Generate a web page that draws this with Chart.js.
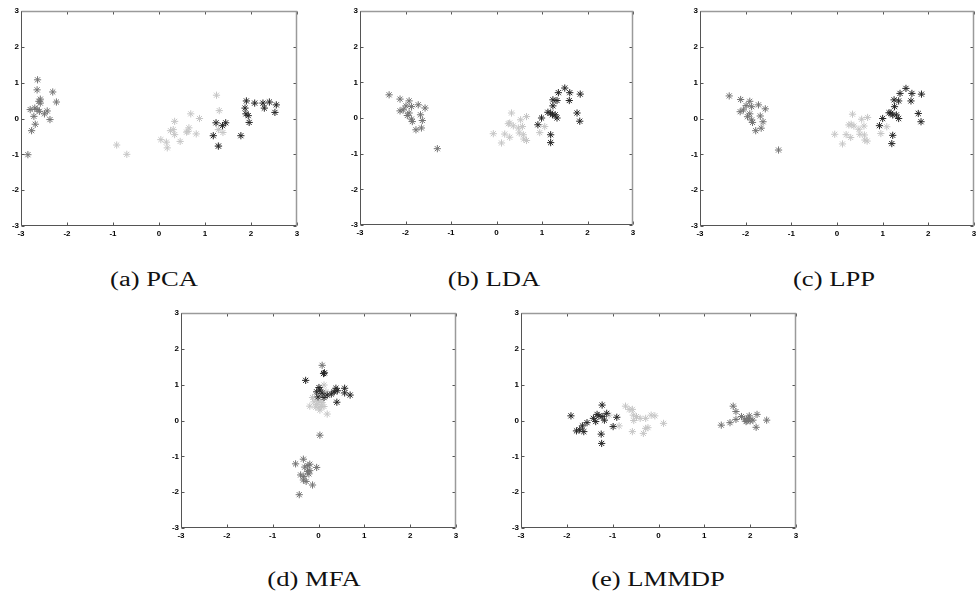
<!DOCTYPE html>
<html>
<head>
<meta charset="utf-8">
<script src="https://cdn.jsdelivr.net/npm/chart.js@4/dist/chart.umd.min.js"></script>
<style>
  html,body{margin:0;padding:0;background:#fff;}
  #wrap{position:relative;width:977px;height:591px;overflow:hidden;background:#fff;}
  canvas{position:absolute;}
  .cap{position:absolute;font-family:"Liberation Serif","Times New Roman",serif;font-size:20px;line-height:20px;color:#111;white-space:nowrap;transform:translateX(-50%) scaleX(1.33);transform-origin:center;}
</style>
</head>
<body>
<div id="wrap"></div>
<script>
// ---- data ----
const tickValues = [-3, -2, -1, 0, 1, 2, 3];
const captions = ['(a) PCA', '(b) LDA', '(c) LPP', '(d) MFA', '(e) LMMDP'];

const pcaDark = [[1.18,-0.48],[1.24,-0.12],[1.29,-0.77],[1.38,-0.20],[1.45,-0.12],[1.78,-0.48],[1.90,0.49],[1.87,0.29],[1.89,0.13],[1.94,0.08],[1.96,-0.11],[2.08,0.43],[2.26,0.43],[2.29,0.29],[2.40,0.46],[2.55,0.38],[2.52,0.17]];
const pcaMedium = [[-2.64,1.08],[-2.65,0.80],[-2.58,0.54],[-2.61,0.48],[-2.58,0.43],[-2.31,0.74],[-2.23,0.46],[-2.80,0.25],[-2.70,0.29],[-2.65,0.25],[-2.60,0.20],[-2.43,0.21],[-2.72,0.06],[-2.49,0.13],[-2.37,-0.03],[-2.69,-0.16],[-2.77,-0.34],[-2.85,-1.01]];
const pcaLight = [[-0.92,-0.74],[-0.70,-1.00],[0.04,-0.59],[0.16,-0.66],[0.18,-0.82],[0.25,-0.34],[0.31,-0.31],[0.34,-0.45],[0.34,-0.08],[0.46,-0.64],[0.69,0.13],[0.60,-0.38],[0.65,-0.26],[0.63,-0.36],[0.81,-0.43],[0.88,0.00],[1.25,0.65],[1.31,0.22],[1.29,-0.31],[1.39,-0.39],[1.30,-0.77]];

const ldaDark = [[0.91,-0.19],[0.99,0.00],[1.19,-0.47],[1.19,-0.69],[1.13,0.16],[1.19,0.14],[1.23,0.09],[1.24,0.34],[1.24,0.51],[1.33,0.49],[1.29,0.09],[1.33,0.00],[1.36,0.71],[1.50,0.84],[1.61,0.71],[1.60,0.49],[1.84,0.67],[1.77,0.14],[1.83,-0.09]];
const ldaMedium = [[-2.36,0.65],[-2.12,0.53],[-1.92,0.48],[-1.72,0.37],[-1.57,0.28],[-1.99,0.34],[-1.87,0.32],[-2.12,0.20],[-2.05,0.23],[-1.92,0.14],[-1.96,0.07],[-1.87,-0.03],[-1.85,-0.10],[-1.67,0.09],[-1.63,-0.07],[-1.77,-0.33],[-1.65,-0.28],[-1.30,-0.86]];
const ldaLight = [[-0.07,-0.44],[0.11,-0.70],[0.18,-0.45],[0.29,-0.54],[0.26,-0.16],[0.33,0.14],[0.37,-0.22],[0.29,-0.14],[0.48,-0.28],[0.53,-0.05],[0.50,-0.42],[0.57,-0.24],[0.59,-0.47],[0.60,-0.59],[0.66,-0.63],[0.66,0.04],[1.06,-0.24],[0.95,-0.41]];

const lppDark = [[0.93,-0.20],[1.00,0.00],[1.22,-0.47],[1.20,-0.70],[1.14,0.16],[1.18,0.15],[1.22,0.10],[1.26,0.33],[1.25,0.52],[1.35,0.49],[1.30,0.10],[1.35,0.00],[1.38,0.70],[1.51,0.84],[1.64,0.70],[1.62,0.49],[1.85,0.68],[1.78,0.14],[1.84,-0.09]];
const lppMedium = [[-2.36,0.63],[-2.11,0.53],[-1.91,0.48],[-1.72,0.38],[-1.57,0.27],[-1.99,0.36],[-1.87,0.33],[-2.12,0.19],[-2.05,0.24],[-1.91,0.13],[-1.96,0.05],[-1.87,-0.04],[-1.85,-0.11],[-1.68,0.07],[-1.62,-0.09],[-1.78,-0.34],[-1.66,-0.27],[-1.28,-0.88]];
const lppLight = [[-0.05,-0.44],[0.12,-0.71],[0.20,-0.45],[0.30,-0.53],[0.26,-0.18],[0.34,0.12],[0.37,-0.21],[0.31,-0.16],[0.48,-0.30],[0.54,-0.02],[0.50,-0.44],[0.59,-0.21],[0.60,-0.46],[0.61,-0.60],[0.66,-0.63],[0.67,0.03],[1.09,-0.23],[0.96,-0.42]];

const mfaDark = [[-0.28,1.12],[0.11,1.31],[0.13,1.33],[0.01,0.92],[-0.04,0.80],[0.03,0.85],[0.08,0.76],[-0.01,0.66],[0.12,0.64],[0.19,0.71],[0.28,0.74],[0.34,0.80],[0.38,0.90],[0.41,0.83],[0.40,0.51],[0.57,0.90],[0.57,0.77],[0.69,0.71]];
const mfaMedium = [[0.08,1.54],[0.03,-0.41],[-0.50,-1.21],[-0.33,-1.08],[-0.30,-1.30],[-0.23,-1.26],[-0.19,-1.22],[-0.04,-1.31],[-0.39,-1.52],[-0.32,-1.56],[-0.27,-1.70],[-0.21,-1.49],[-0.19,-1.40],[-0.24,-1.42],[-0.33,-1.66],[-0.13,-1.80],[-0.42,-2.07]];
const mfaLight = [[0.12,0.99],[-0.13,0.64],[-0.19,0.40],[-0.04,0.45],[0.01,0.37],[0.06,0.40],[0.12,0.39],[-0.10,0.52],[0.03,0.52],[0.19,0.18],[-0.03,0.57],[0.08,0.50],[0.03,0.29],[-0.06,0.37],[0.16,0.80]];

const lmmdpDark = [[-1.91,0.13],[-1.79,-0.29],[-1.72,-0.26],[-1.66,-0.15],[-1.63,-0.31],[-1.56,-0.06],[-1.42,0.06],[-1.34,0.17],[-1.37,-0.03],[-1.30,0.13],[-1.23,0.43],[-1.23,0.11],[-1.18,0.01],[-1.13,0.20],[-1.25,-0.38],[-1.24,-0.64],[-0.99,-0.17],[-0.91,0.09]];
const lmmdpMedium = [[1.37,-0.13],[1.56,-0.06],[1.63,0.40],[1.69,0.25],[1.69,0.03],[1.81,0.11],[1.88,0.04],[1.93,-0.01],[1.96,0.06],[1.98,0.13],[2.00,-0.01],[1.91,-0.03],[2.06,0.01],[2.15,0.17],[2.13,-0.19],[2.36,0.01]];
const lmmdpLight = [[-0.72,0.40],[-0.64,0.31],[-0.57,0.31],[-0.55,0.15],[-0.54,0.00],[-0.48,0.11],[-0.40,0.06],[-0.28,0.06],[-0.57,-0.31],[-0.33,-0.36],[-0.28,-0.22],[-0.23,-0.20],[-0.16,0.15],[-0.08,0.13],[0.11,-0.08],[-0.86,-0.15],[-1.08,0.15]];

// ---- layout / style ----
const COLORS = {dark:'#262626', medium:'#747474', light:'#c6c6c6'};
const panels = [
  {L:21,  T:11,  W:276, H:215, cx:154, capTop:269, data:[pcaDark,pcaMedium,pcaLight]},
  {L:360, T:11,  W:273, H:214, cx:494, capTop:269, data:[ldaDark,ldaMedium,ldaLight]},
  {L:700, T:11,  W:274, H:215, cx:834, capTop:269, data:[lppDark,lppMedium,lppLight]},
  {L:181, T:313, W:275, H:215, cx:314, capTop:569, data:[mfaDark,mfaMedium,mfaLight]},
  {L:521, T:313, W:275, H:215, cx:658, capTop:569, data:[lmmdpDark,lmmdpMedium,lmmdpLight]}
];
const YAXW = 20, XAXH = 16, PADT = 8, PADR = 8;

const boxPlugin = {
  id: 'boxTicks',
  afterDraw(chart) {
    const {ctx, chartArea: a, scales: {x, y}} = chart;
    const l = Math.round(a.left) + 0.5, r = Math.round(a.right) - 0.5;
    const t = Math.round(a.top) + 0.5, b = Math.round(a.bottom) - 0.5;
    ctx.save();
    ctx.lineWidth = 1;
    const tl = 3;
    ctx.strokeStyle = '#555';
    ctx.beginPath();
    tickValues.forEach(v => {
      const px = Math.round(x.getPixelForValue(v)) + 0.5;
      ctx.moveTo(px, b); ctx.lineTo(px, b - tl);
      ctx.moveTo(px, t); ctx.lineTo(px, t + tl);
      const py = Math.round(y.getPixelForValue(v)) + 0.5;
      ctx.moveTo(l, py); ctx.lineTo(l + tl, py);
      ctx.moveTo(r, py); ctx.lineTo(r - tl, py);
    });
    ctx.stroke();
    // top & right lighter
    ctx.strokeStyle = '#9a9a9a';
    ctx.lineWidth = 1.5;
    ctx.beginPath();
    ctx.moveTo(l, t); ctx.lineTo(r, t); ctx.lineTo(r, b);
    ctx.stroke();
    // left & bottom darker
    ctx.strokeStyle = '#555';
    ctx.lineWidth = 1;
    ctx.beginPath();
    ctx.moveTo(l, t); ctx.lineTo(l, b); ctx.lineTo(r, b);
    ctx.stroke();
    ctx.restore();
  }
};

function zeroPad(scale){ scale.paddingLeft = 0; scale.paddingRight = 0; scale.paddingTop = 0; scale.paddingBottom = 0; }

const wrap = document.getElementById('wrap');
panels.forEach((p, i) => {
  const cw = p.W + YAXW + PADR, ch = p.H + PADT + XAXH;
  const cv = document.createElement('canvas');
  cv.width = cw; cv.height = ch;
  cv.style.left = (p.L - YAXW) + 'px';
  cv.style.top = (p.T - PADT) + 'px';
  cv.style.width = cw + 'px'; cv.style.height = ch + 'px';
  wrap.appendChild(cv);

  const cap = document.createElement('div');
  cap.className = 'cap';
  cap.textContent = captions[i];
  cap.style.left = p.cx + 'px';
  cap.style.top = p.capTop + 'px';
  wrap.appendChild(cap);

  const tickFont = {family: '"Liberation Sans", Arial, sans-serif', size: 8, weight: 'bold'};
  const names = ['dark','medium','light'];
  new Chart(cv, {
    type: 'scatter',
    data: {
      datasets: p.data.map((d, k) => ({
        data: d,
        pointStyle: 'star',
        pointRadius: 3.6,
        pointHoverRadius: 3.6,
        borderWidth: 1,
        borderColor: COLORS[names[k]],
        backgroundColor: COLORS[names[k]],
        order: k
      }))
    },
    options: {
      responsive: false,
      animation: false,
      devicePixelRatio: 1,
      events: [],
      layout: {padding: {top: PADT, right: PADR, left: 0, bottom: 0}},
      plugins: {legend: {display: false}, tooltip: {enabled: false}},
      scales: {
        x: {
          type: 'linear', min: -3, max: 3,
          grid: {display: false, drawTicks: false},
          border: {display: false},
          ticks: {stepSize: 1, padding: 3, color: '#000', font: tickFont, maxRotation: 0, autoSkip: false},
          afterFit(s){ s.height = XAXH; zeroPad(s); }
        },
        y: {
          type: 'linear', min: -3, max: 3,
          grid: {display: false, drawTicks: false},
          border: {display: false},
          ticks: {stepSize: 1, padding: 2, color: '#000', font: tickFont, autoSkip: false},
          afterFit(s){ s.width = YAXW; zeroPad(s); }
        }
      }
    },
    plugins: [boxPlugin]
  });
});
</script>
</body>
</html>
